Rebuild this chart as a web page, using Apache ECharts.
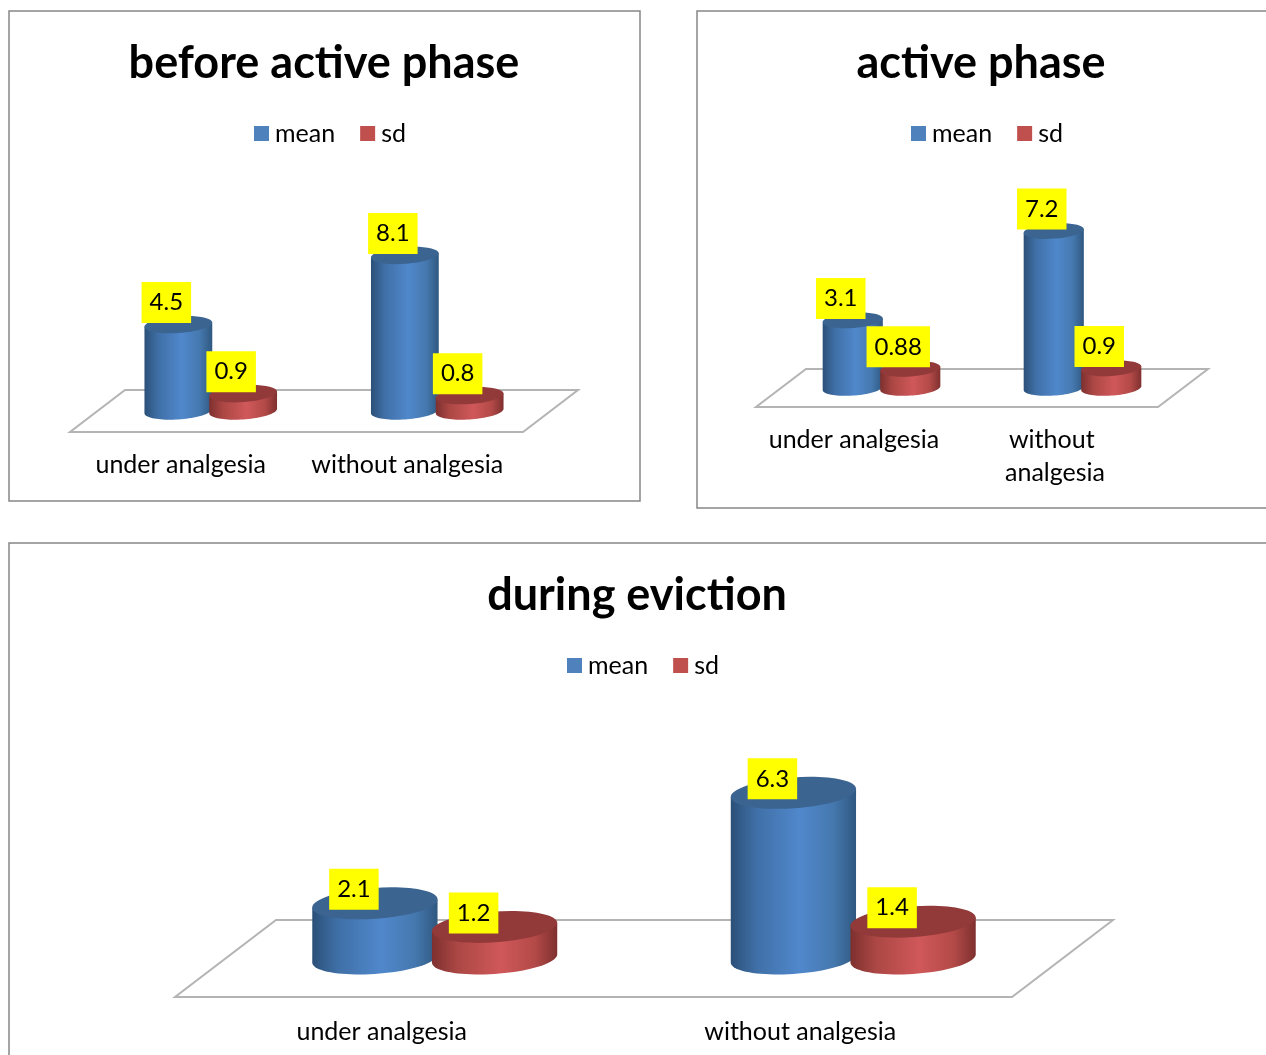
<!DOCTYPE html>
<html>
<head>
<meta charset="utf-8">
<title>analgesia charts</title>
<style>
  html, body { margin: 0; padding: 0; background: #fff; overflow: hidden; }
  #main { width: 1266px; height: 1055px; }
</style>
</head>
<body>
<div id="main"></div>
<script src="https://cdn.jsdelivr.net/npm/echarts@6/dist/echarts.min.js"></script>
<script>
const categories = ['under analgesia', 'without analgesia']

const beforeMean = [4.5, 8.1]
const beforeSd = [0.9, 0.8]
const activeMean = [3.1, 7.2]
const activeSd = [0.88, 0.9]
const evictionMean = [2.1, 6.3]
const evictionSd = [1.2, 1.4]

const FONT = 'Lato, "Open Sans", sans-serif'
const TILT = 4 * Math.PI / 180

// one entry per chart, depth is the half depth of the floor
const panels = [
  {
    title: 'before active phase', titleX: 324, titleY: 41,
    frame: [9, 11, 631, 490],
    legendX: 254, legendY: 121,
    grid: { left: 70, top: 240, width: 453, height: 192 },
    depth: [27.5, -21], labelOffset: [-12, -22], labelMargin: 16, labelWidth: 220,
    mean: beforeMean, sd: beforeSd
  },
  {
    title: 'active phase', titleX: 981, titleY: 41,
    frame: [697, 11, 640, 497],
    legendX: 911, legendY: 121,
    grid: { left: 756, top: 189, width: 402, height: 218 },
    depth: [25, -19], labelOffset: [-12, -22], labelMargin: 16, labelWidth: 180,
    mean: activeMean, sd: activeSd
  },
  {
    title: 'during eviction', titleX: 637, titleY: 573,
    frame: [9, 543, 1300, 560],
    legendX: 567, legendY: 653,
    grid: { left: 175, top: 734, width: 837, height: 263 },
    depth: [50.5, -38.5], labelOffset: [-21, -14], labelMargin: 18, labelWidth: 400,
    mean: evictionMean, sd: evictionSd
  }
]

const blue = {
  main: '#4f81bd',
  top: '#3b6491',
  stops: ['#2b5078', '#3f6fa6', '#5088cc', '#4578ae', '#2f5880']
}
const red = {
  main: '#c0504d',
  top: '#913a39',
  stops: ['#7d302f', '#ab4744', '#d0585a', '#b34a48', '#7f302f']
}

function barGradient(c) {
  return {
    type: 'linear', x: 0, y: 0, x2: 1, y2: 0,
    colorStops: [
      { offset: 0, color: c.stops[0] },
      { offset: 0.2, color: c.stops[1] },
      { offset: 0.55, color: c.stops[2] },
      { offset: 0.82, color: c.stops[3] },
      { offset: 1, color: c.stops[4] }
    ]
  }
}

// point on an ellipse turned a little counterclockwise
function ellipsePoint(cx, cy, rx, ry, t) {
  return [
    cx + rx * Math.cos(t) * Math.cos(TILT) + ry * Math.sin(t) * Math.sin(TILT),
    cy - rx * Math.cos(t) * Math.sin(TILT) + ry * Math.sin(t) * Math.cos(TILT)
  ]
}

function cylinderSeries(name, values, panelIndex, shift, colors) {
  const panel = panels[panelIndex]
  return {
    type: 'custom',
    name: name,
    xAxisIndex: panelIndex,
    yAxisIndex: panelIndex,
    itemStyle: { color: colors.main },
    data: values.map((v, i) => [i, v]),
    renderItem(params, api) {
      const band = api.size([1, 0])[0]
      const rx = band * 0.15
      const ry = Math.abs(panel.depth[1]) * 0.4
      const base = api.coord([api.value(0), 0])
      const head = api.coord([api.value(0), api.value(1)])
      const cx = base[0] + panel.depth[0] + shift * band
      const by = base[1] + panel.depth[1]
      const ty = head[1] + panel.depth[1]

      // body outline: lower arc of the base, then up to the top ellipse
      const t0 = Math.atan((ry / rx) * Math.tan(TILT))
      const points = []
      for (let k = 0; k <= 40; k++) {
        points.push(ellipsePoint(cx, by, rx, ry, t0 + Math.PI * k / 40))
      }
      points.push(ellipsePoint(cx, ty, rx, ry, t0 + Math.PI))
      points.push(ellipsePoint(cx, ty, rx, ry, t0))

      return {
        type: 'group',
        children: [
          {
            type: 'polygon',
            shape: { points: points },
            style: { fill: barGradient(colors) }
          },
          {
            type: 'ellipse',
            shape: { cx: cx, cy: ty, rx: rx, ry: ry },
            rotation: TILT,
            originX: cx,
            originY: ty,
            style: { fill: colors.top }
          },
          {
            type: 'text',
            z2: 50,
            style: {
              x: cx + panel.labelOffset[0],
              y: ty + panel.labelOffset[1],
              text: String(api.value(1)),
              align: 'center',
              verticalAlign: 'middle',
              fontFamily: FONT,
              fontSize: 24,
              fill: '#000',
              backgroundColor: '#ffff00',
              padding: [11, 8, 6, 8]
            }
          }
        ]
      }
    }
  }
}

function floorSeries(panelIndex) {
  const panel = panels[panelIndex]
  return {
    type: 'custom',
    name: 'floor',
    silent: true,
    xAxisIndex: panelIndex,
    yAxisIndex: panelIndex,
    data: [[0, 0]],
    renderItem(params) {
      const r = params.coordSys
      const bottom = r.y + r.height
      const dx = panel.depth[0] * 2
      const dy = panel.depth[1] * 2
      return {
        type: 'polygon',
        shape: {
          points: [
            [r.x, bottom],
            [r.x + r.width, bottom],
            [r.x + r.width + dx, bottom + dy],
            [r.x + dx, bottom + dy]
          ]
        },
        style: { fill: '#fff', stroke: '#b4b4b4', lineWidth: 2 }
      }
    }
  }
}

const option = {
  animation: false,
  backgroundColor: '#fff',
  textStyle: { fontFamily: FONT },
  title: panels.map(p => ({
    text: p.title,
    left: p.titleX,
    top: p.titleY,
    padding: 0,
    textAlign: 'center',
    textStyle: { fontFamily: FONT, fontSize: 45, fontWeight: 'bold', color: '#000' }
  })),
  legend: panels.map(p => ({
    left: p.legendX,
    top: p.legendY,
    padding: 0,
    data: ['mean', 'sd'],
    icon: 'rect',
    itemWidth: 15,
    itemHeight: 15,
    itemGap: 25,
    selectedMode: false,
    textStyle: { fontFamily: FONT, fontSize: 25, color: '#000', padding: [0, 0, 0, 1] }
  })),
  grid: panels.map(p => p.grid),
  xAxis: panels.map((p, i) => ({
    type: 'category',
    gridIndex: i,
    data: categories,
    axisLine: { show: false },
    axisTick: { show: false },
    axisLabel: {
      fontFamily: FONT,
      fontSize: 25,
      lineHeight: 33,
      color: '#000',
      margin: p.labelMargin,
      width: p.labelWidth,
      overflow: 'break',
      interval: 0,
      padding: [0, 5, 0, 0]
    }
  })),
  yAxis: panels.map((p, i) => ({
    type: 'value',
    gridIndex: i,
    min: 0,
    max: 10,
    show: false
  })),
  series: [],
  // chart frames
  graphic: panels.map(p => ({
    type: 'rect',
    silent: true,
    z: -1,
    shape: { x: p.frame[0], y: p.frame[1], width: p.frame[2], height: p.frame[3] },
    style: { fill: 'none', stroke: '#868686', lineWidth: 1.5 }
  }))
}

panels.forEach((p, i) => {
  option.series.push(floorSeries(i))
  option.series.push(cylinderSeries('mean', p.mean, i, -0.143, blue))
  option.series.push(cylinderSeries('sd', p.sd, i, 0.143, red))
})

const chart = echarts.init(document.getElementById('main'))
chart.setOption(option)
</script>
</body>
</html>
